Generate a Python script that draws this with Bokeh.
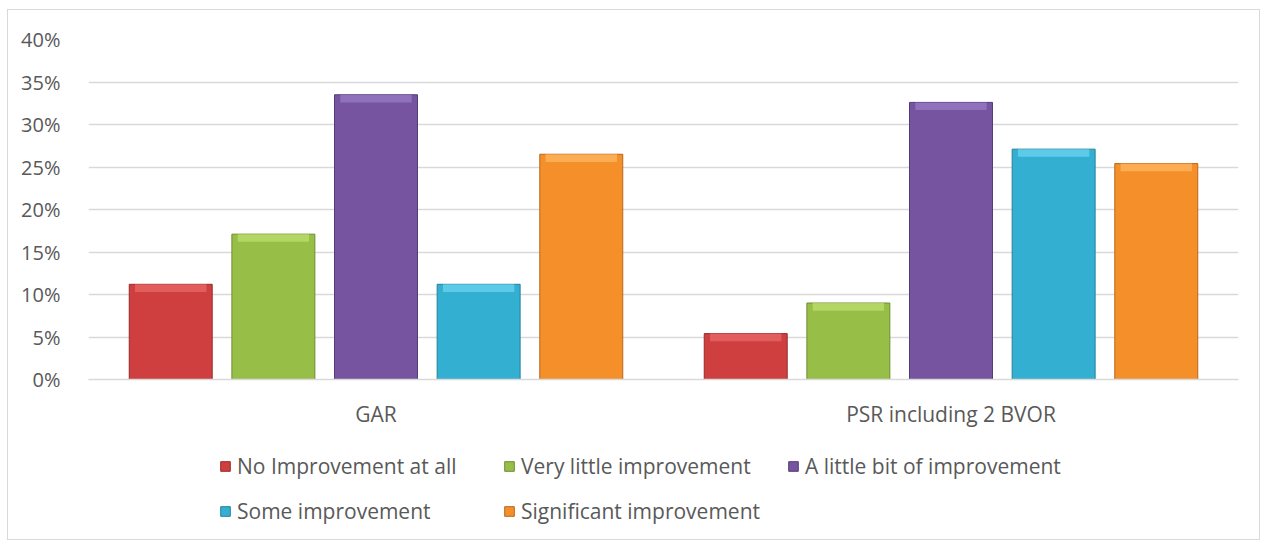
from bokeh.plotting import figure
from bokeh.layouts import column
from bokeh.models import FactorRange, Range1d, NumeralTickFormatter, Legend, LegendItem, ColumnDataSource
from bokeh.transform import dodge
from bokeh.embed import file_html
from bokeh.resources import INLINE

groups = ["GAR", "PSR including 2 BVOR"]
series = ["No Improvement at all", "Very little improvement", "A little bit of improvement",
          "Some improvement", "Significant improvement"]
gar = [0.112, 0.171, 0.335, 0.112, 0.265]
psr = [0.054, 0.090, 0.326, 0.271, 0.254]
colors = ["#CF3F3F", "#97BE47", "#7654A0", "#33AFD2", "#F58F2A"]
edges = ["#9A2B2B", "#6E8C32", "#563B78", "#23809B", "#B9661B"]
tops = ["#E86A6A", "#BEDD6E", "#9A7BC4", "#6CD3EE", "#FDB660"]

FONT = "Open Sans"
TXT = "#595959"
W = 1251

p = figure(x_range=FactorRange(*groups), y_range=Range1d(0, 0.4),
           width=W, height=420, output_backend="svg", toolbar_location=None,
           min_border_left=80, min_border_right=21, min_border_top=29, min_border_bottom=49)
p.outline_line_color = None
p.background_fill_color = "white"

offsets = [-0.357, -0.1785, 0.0, 0.1785, 0.357]
width = 0.1443
for i, name in enumerate(series):
    src = ColumnDataSource(dict(g=groups, v=[gar[i], psr[i]],
                                vb=[gar[i] - 0.009, psr[i] - 0.009]))
    p.vbar(x=dodge("g", offsets[i], range=p.x_range), top="v", bottom=0, width=width,
           source=src, fill_color=colors[i], line_color=edges[i], line_width=1)
    p.vbar(x=dodge("g", offsets[i], range=p.x_range), top="v", bottom="vb", width=width * 0.86,
           source=src, fill_color=tops[i], line_color=None, fill_alpha=0.75)

p.yaxis.formatter = NumeralTickFormatter(format="0%")
p.yaxis.ticker = [0, 0.05, 0.1, 0.15, 0.2, 0.25, 0.3, 0.35, 0.4]
p.yaxis.axis_line_color = None
p.yaxis.major_tick_line_color = None
p.yaxis.minor_tick_line_color = None
p.yaxis.major_label_text_font = FONT
p.yaxis.major_label_text_font_size = "20px"
p.yaxis.major_label_text_color = TXT
p.yaxis.major_label_standoff = 22

p.xaxis.axis_line_color = "#d9d9d9"
p.xaxis.axis_line_width = 1.5
p.xaxis.major_tick_line_color = None
p.xaxis.minor_tick_line_color = None
p.xaxis.major_label_text_font = FONT
p.xaxis.major_label_text_font_size = "21px"
p.xaxis.major_label_text_color = TXT
p.xaxis.major_label_standoff = 14

p.xgrid.grid_line_color = None
p.ygrid.grid_line_color = "#d9d9d9"
p.ygrid.grid_line_width = 1.5

# legend panel (its frame is aligned with the chart's frame by the column layout)
p2 = figure(width=W, height=109, output_backend="svg", toolbar_location=None,
            x_range=Range1d(0, 1), y_range=Range1d(0, 1),
            min_border_left=80, min_border_right=21, min_border_top=0, min_border_bottom=0)
p2.axis.visible = False
p2.grid.grid_line_color = None
p2.outline_line_color = None
items = []
for i, name in enumerate(series):
    r = p2.vbar(x=[-5], top=[-5], bottom=[-6], width=0.1, fill_color=colors[i], line_color=edges[i])
    items.append(LegendItem(label=name, renderers=[r]))

legend = Legend(items=items, ncols=3, orientation="horizontal",
                label_text_font=FONT, label_text_font_size="21px", label_text_color=TXT,
                glyph_width=12, glyph_height=12, label_standoff=6, label_width=256,
                spacing=10, border_line_color=None, background_fill_alpha=0,
                label_height=35, padding=0, margin=0, location=(131, 10.5))
p2.add_layout(legend)

layout = column(p, p2, spacing=0,
                styles={"border": "1px solid #d9d9d9", "margin": "9px 0 0 7px"})

open("out.html", "w").write(file_html(layout, INLINE))
